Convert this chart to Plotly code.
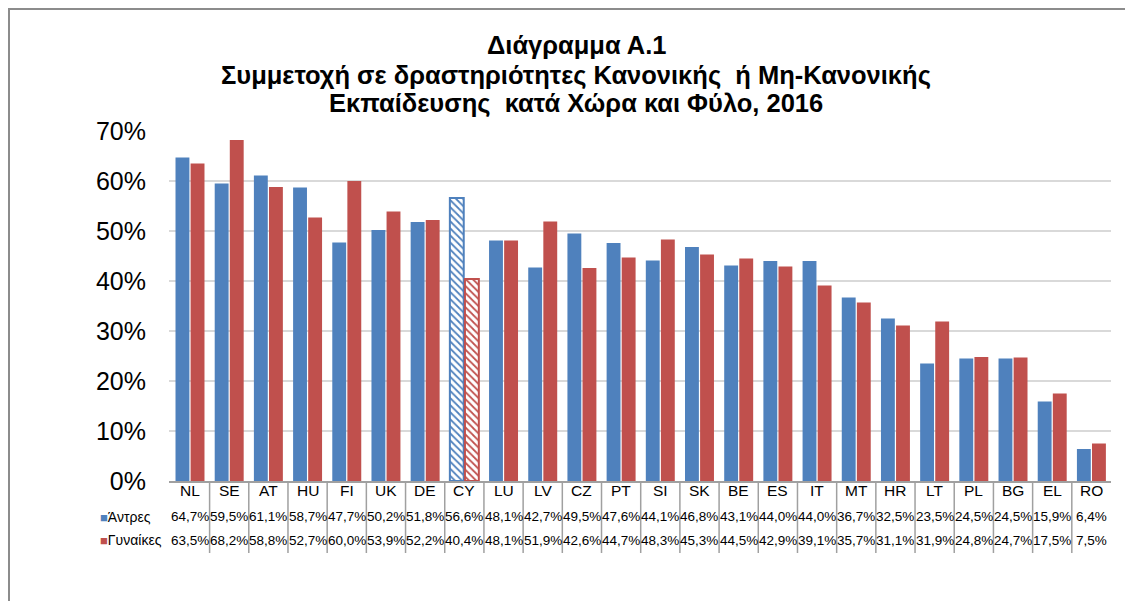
import plotly.graph_objects as go

categories = ["NL", "SE", "AT", "HU", "FI", "UK", "DE", "CY", "LU", "LV", "CZ", "PT",
              "SI", "SK", "BE", "ES", "IT", "MT", "HR", "LT", "PL", "BG", "EL", "RO"]
men = [64.7, 59.5, 61.1, 58.7, 47.7, 50.2, 51.8, 56.6, 48.1, 42.7, 49.5, 47.6,
       44.1, 46.8, 43.1, 44.0, 44.0, 36.7, 32.5, 23.5, 24.5, 24.5, 15.9, 6.4]
women = [63.5, 68.2, 58.8, 52.7, 60.0, 53.9, 52.2, 40.4, 48.1, 51.9, 42.6, 44.7,
         48.3, 45.3, 44.5, 42.9, 39.1, 35.7, 31.1, 31.9, 24.8, 24.7, 17.5, 7.5]
series_names = ["Άντρες", "Γυναίκες"]
highlight = "CY"
y_ticks = [0, 10, 20, 30, 40, 50, 60, 70]
title_lines = ["Διάγραμμα Α.1",
               "Συμμετοχή σε δραστηριότητες Κανονικής  ή Μη-Κανονικής",
               "Εκπαίδευσης  κατά Χώρα και Φύλο, 2016"]

BLUE = "#4F81BD"
RED = "#C0504D"
FONT = "Liberation Sans, Arial, sans-serif"

OFF = 8  # page body margin
W, H = 1133 - OFF, 601 - OFF
L = 169 - OFF
T = 131 - OFF
R = W - (1111 - OFF)
B = H - (481 - OFF)
PW = W - L - R
PH = H - T - B


def py(pix):  # pix = page pixel
    return (H - B - (pix - OFF)) / PH


def px(pix):
    return (pix - OFF - L) / PW


def make_trace(name, vals, color):
    hl = [c == highlight for c in categories]
    return go.Bar(
        x=categories, y=vals, name=name,
        marker=dict(
            color=color,
            line=dict(color=color, width=[2 if h else 0 for h in hl]),
            pattern=dict(
                shape=["\\" if h else "" for h in hl],
                fgcolor=color,
                bgcolor=["white" if h else color for h in hl],
                size=5, solidity=0.35, fillmode="replace",
            ),
        ),
        showlegend=False,
        hoverinfo="x+y",
    )


fig = go.Figure([make_trace(series_names[0], men, BLUE),
                 make_trace(series_names[1], women, RED)])

annotations = []
for line, ypix in zip(title_lines, [45, 75, 104]):
    annotations.append(dict(
        text="<b>" + line + "</b>", xref="paper", yref="paper",
        x=px(576), y=py(ypix), xanchor="center", yanchor="middle",
        showarrow=False, font=dict(family=FONT, size=25.5, color="#000"),
    ))

# data table
row_y = [py(491), py(517), py(540)]
for i, c in enumerate(categories):
    annotations.append(dict(text=c, x=c, xref="x", yref="paper", y=row_y[0],
                            showarrow=False, yanchor="middle",
                            font=dict(family=FONT, size=15.5, color="#000")))
    for r, vals in enumerate([men, women]):
        annotations.append(dict(text=f"{vals[i]:.1f}%".replace(".", ","), x=c, xref="x",
                                yref="paper", y=row_y[r + 1], showarrow=False,
                                yanchor="middle",
                                font=dict(family=FONT, size=13.5, color="#000")))
for r, (nm, col) in enumerate(zip(series_names, [BLUE, RED])):
    annotations.append(dict(
        text=f"<span style='color:{col};font-size:13px'>■</span>{nm}", xref="paper",
        yref="paper", x=px(98), y=row_y[r + 1], xanchor="left", yanchor="middle",
        showarrow=False, font=dict(family=FONT, size=14, color="#000"),
    ))

shapes = []
for i in range(len(categories) - 1):
    shapes.append(dict(type="line", xref="x", yref="paper", x0=i + 0.5, x1=i + 0.5,
                       y0=0, y1=py(553), line=dict(color="#A0A0A0", width=1.5)))
# outer chart border
shapes.append(dict(type="rect", xref="paper", yref="paper",
                   x0=px(9), x1=px(1133 + 20), y0=py(601 + 20), y1=py(9),
                   line=dict(color="#8C8C8C", width=2), fillcolor="rgba(0,0,0,0)",
                   layer="below"))

fig.update_layout(
    width=W, height=H,
    margin=dict(l=L, r=R, t=T, b=B, pad=0),
    paper_bgcolor="white", plot_bgcolor="white",
    barmode="group", bargap=0.23, bargroupgap=0.08,
    font=dict(family=FONT, color="#000"),
    annotations=annotations, shapes=shapes,
    xaxis=dict(showticklabels=False, ticks="", showgrid=False, showline=True,
               linecolor="#A0A0A0", linewidth=1.5, fixedrange=True),
    yaxis=dict(range=[0, 70], tickvals=y_ticks, ticktext=[f"{v}%" for v in y_ticks],
               tickfont=dict(family=FONT, size=25, color="#000"),
               showgrid=True, gridcolor="#D9D9D9", gridwidth=2, zeroline=False,
               showline=False, ticks="", ticklabelstandoff=22, fixedrange=True),
)

fig.write_html("out.html")
